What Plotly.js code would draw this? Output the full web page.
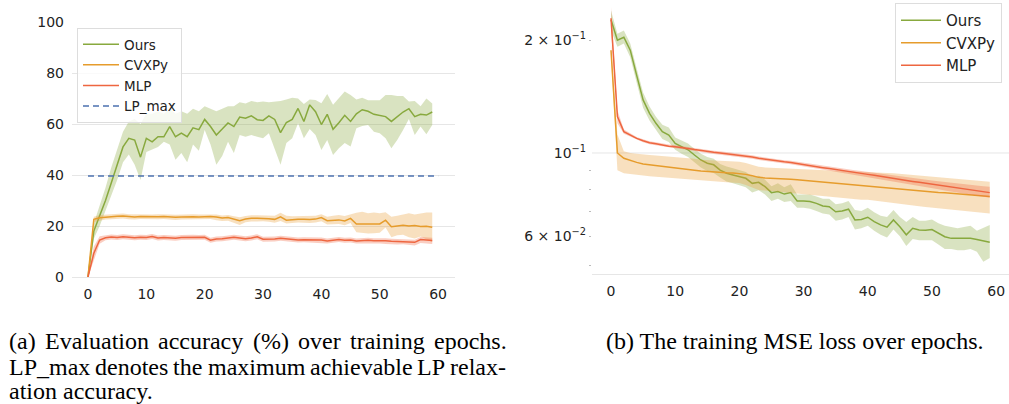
<!DOCTYPE html>
<html>
<head>
<meta charset="utf-8">
<script src="https://cdn.plot.ly/plotly-3.0.1.min.js"></script>
<style>
html,body{margin:0;padding:0;background:#fff;}
#chart{width:1009px;height:404px;}
</style>
</head>
<body>
<div id="chart"></div>
<script>
// ---------- data ----------
const epochs = Array.from({length: 60}, (_, i) => i);
const xTicks = [0, 10, 20, 30, 40, 50, 60];
const accTicks = [0, 20, 40, 60, 80, 100];
const lossTickVals = [0.06, 0.1, 0.2];
const lossTickText = ["6 × 10<sup>−2</sup>", "10<sup>−1</sup>", "2 × 10<sup>−1</sup>"];
const lossMinorVals = [0.05, 0.06, 0.07, 0.08, 0.09, 0.2];
const seriesNames = ["Ours", "CVXPy", "MLP", "LP_max"];
const lpMaxX = [0, 60];
const lpMaxY = [39.6, 39.6];

// (a) evaluation accuracy (%)
const accOurs = [0,18,24,30,37,44,51,54.4,53.7,47,54.4,53,55,55,59,55,56.4,55,58.5,57.8,61.8,59,55.7,58,60.4,59,62.7,62.3,63.2,61.7,61.4,63.2,61.8,56.6,60.6,61.8,66.1,61,67.5,64.8,59.8,63.8,57.9,60.5,63.4,61,64,65.6,65,63.8,63.4,62.9,61,62.9,64.7,66,62.9,63.8,63.5,64.7];
const accOursHi = [0.5,21,28,35,43,50,57,61,62,60,64,64,65,64,66,64,65,64,66,65,67,66,65,66,67,67,68.5,68,69,68.5,68.8,68.5,68.8,69,69.6,70.3,70,67.8,69.6,69.4,68.1,71.8,67.5,70,72.7,71.4,69.6,70.3,69.3,69.3,69.3,71.4,71.4,71,71,68.8,69,67,70,68];
const accOursLo = [0,15,20,26,32,38,45,48,44,38,49,50,51,53,52,46,48.6,45,52,49.5,57.6,52,44,47.5,53,48.6,55.7,55,55.7,55,54.4,56.4,50.5,44,52.5,54.4,60.3,54.4,58,55.7,49.8,53.7,47.8,50.5,52.5,51.2,58.3,59.2,59.6,57,56.4,54.4,50.5,53.7,57.6,62,55.7,59,56,59.6];
const accCvx = [0,22.6,23.2,23.5,23.6,23.8,23.9,23.6,23.5,23.7,23.6,23.5,23.6,23.7,23.5,23.4,23.5,23.6,23.6,23.5,23.6,23.7,23.5,23.1,23.3,22.6,22.1,22.7,23.0,23.0,23.0,22.8,22.6,23.6,22.3,22.5,22.6,22.6,22.5,22.7,23.3,22.1,22.3,22.4,22.0,23.0,20.8,20.8,20.8,20.8,20.8,22.3,19.7,20.0,20.3,20.0,20.2,19.8,19.9,19.5];
const accCvxHi = [0.5,23.6,24.3,24.5,24.6,24.8,24.9,24.6,24.5,24.7,24.6,24.5,24.6,24.7,24.5,24.4,24.5,24.6,24.6,24.5,24.6,24.7,24.5,24.1,24.3,23.8,23.4,23.9,24.2,24.2,24.1,23.9,24.0,25.2,24.0,23.8,23.8,23.9,23.8,24.0,24.6,23.6,24.0,24.3,23.9,24.6,25.2,25.6,25.0,25.3,25.0,25.4,23.6,24.0,24.6,25.0,24.5,25.0,25.3,25.3];
const accCvxLo = [0,21.6,22.1,22.5,22.6,22.8,22.9,22.6,22.5,22.7,22.6,22.5,22.6,22.7,22.5,22.4,22.5,22.6,22.6,22.5,22.6,22.7,22.3,22.0,22.1,21.3,20.4,21.5,21.8,21.8,21.9,21.7,21.3,22.0,21.0,21.2,21.4,21.3,21.2,21.4,21.9,20.6,20.7,20.8,20.3,21.2,17.5,17.2,17.1,17.2,17.4,19.4,15.6,16.4,16.6,15.6,15.1,15.9,14.8,13.6];
const accMlp = [0,9.3,14.5,15.4,15.7,15.5,15.8,15.6,15.4,15.6,15.5,15.9,15.3,15.5,15.4,15.2,15.5,15.6,15.6,15.5,15.6,14.4,14.9,15.0,15.4,15.6,15.3,15.0,15.3,15.8,14.8,14.8,14.9,15.2,14.9,14.7,14.5,14.6,14.5,14.6,14.5,14.1,14.4,14.7,14.4,14.5,14.1,14.3,14.4,14.2,14.3,14.2,14.0,13.9,14.0,13.9,13.6,14.7,14.5,14.3];
const accMlpHi = [0.5,12,16,16.4,16.7,16.5,16.8,16.6,16.4,16.6,16.5,16.9,16.3,16.5,16.4,16.2,16.5,16.6,16.6,16.5,16.6,15.4,15.9,16.0,16.4,16.6,16.3,16.0,16.3,16.8,15.8,15.8,15.9,16.2,15.9,15.7,15.5,15.6,15.5,15.6,15.5,15.1,15.4,15.7,15.4,15.5,15.1,15.3,15.4,15.2,15.3,15.2,15.0,14.9,15.0,14.9,14.6,15.7,15.5,15.4];
const accMlpLo = [0,6.5,13,14.4,14.7,14.5,14.8,14.6,14.4,14.6,14.5,14.9,14.3,14.5,14.4,14.2,14.5,14.6,14.6,14.5,14.6,13.4,13.9,14.0,14.4,14.6,14.3,14.0,14.3,14.8,13.8,13.8,13.9,14.2,13.9,13.7,13.5,13.6,13.5,13.6,13.5,13.1,13.4,13.7,13.4,13.5,13.1,13.1,13.2,13.0,13.1,12.9,12.7,12.7,12.8,12.7,12.4,13.3,13.2,12.9];

// (b) training MSE loss
const lossOurs = [0.2265,0.200,0.2036,0.188,0.161,0.1385,0.1276,0.120,0.114,0.1117,0.106,0.104,0.102,0.0988,0.0958,0.0939,0.093,0.090,0.0883,0.0874,0.0865,0.0856,0.083,0.0835,0.0813,0.0784,0.0789,0.0777,0.0784,0.0745,0.0745,0.0742,0.0734,0.0722,0.0719,0.0697,0.0700,0.0708,0.0663,0.0665,0.0674,0.0656,0.0643,0.0634,0.0663,0.0636,0.0605,0.063,0.0623,0.0622,0.0625,0.0611,0.0598,0.0592,0.0592,0.0592,0.0592,0.0588,0.0584,0.0578];
const lossOursHi = [0.240,0.208,0.212,0.196,0.168,0.145,0.133,0.125,0.119,0.117,0.110,0.108,0.106,0.1025,0.0995,0.0975,0.0965,0.0935,0.092,0.091,0.090,0.089,0.0865,0.087,0.0848,0.0815,0.083,0.081,0.0825,0.0775,0.0775,0.0775,0.0765,0.0755,0.0755,0.073,0.0735,0.0745,0.0705,0.070,0.0715,0.0695,0.068,0.0675,0.0705,0.0675,0.0655,0.0675,0.066,0.066,0.0665,0.065,0.064,0.0635,0.063,0.0635,0.064,0.062,0.063,0.0643];
const lossOursLo = [0.212,0.192,0.196,0.180,0.154,0.132,0.122,0.115,0.109,0.107,0.102,0.0995,0.0975,0.0945,0.0915,0.0895,0.0885,0.086,0.084,0.083,0.082,0.081,0.0785,0.0795,0.0775,0.0745,0.0755,0.074,0.0745,0.0715,0.0715,0.071,0.070,0.069,0.0685,0.066,0.0665,0.0675,0.0625,0.063,0.064,0.062,0.0605,0.0595,0.0625,0.060,0.0565,0.059,0.0585,0.0585,0.0585,0.057,0.0555,0.0555,0.055,0.055,0.0555,0.0545,0.0513,0.0525];
const lossCvx = [0.188,0.100,0.0968,0.0954,0.0944,0.0935,0.0930,0.0925,0.0920,0.0915,0.0910,0.0906,0.0902,0.0899,0.0895,0.0892,0.0890,0.0888,0.0886,0.0885,0.0883,0.0877,0.0870,0.0861,0.0858,0.0857,0.0855,0.0853,0.0851,0.0848,0.0845,0.0842,0.0839,0.0835,0.0833,0.0830,0.0826,0.0823,0.0819,0.0817,0.0815,0.0812,0.0810,0.0807,0.0805,0.0802,0.0799,0.0796,0.0793,0.0789,0.0787,0.0785,0.0783,0.0780,0.0777,0.0775,0.0772,0.0770,0.0767,0.0765];
const lossCvxHi = [0.195,0.112,0.101,0.1,0.0995,0.099,0.0988,0.0985,0.0982,0.098,0.0978,0.0975,0.097,0.0965,0.096,0.0958,0.0955,0.0952,0.095,0.0948,0.0947,0.094,0.093,0.0919,0.0915,0.0913,0.0912,0.091,0.0908,0.0906,0.0905,0.0903,0.0901,0.0899,0.0898,0.0896,0.0895,0.0894,0.0893,0.0892,0.0892,0.089,0.0888,0.0885,0.0883,0.088,0.0877,0.0874,0.087,0.0867,0.0864,0.0861,0.0858,0.0855,0.0852,0.0849,0.0846,0.0843,0.084,0.0838];
const lossCvxLo = [0.18,0.09,0.0883,0.0878,0.0874,0.087,0.0867,0.0864,0.0861,0.0858,0.0856,0.0853,0.085,0.0847,0.0845,0.0843,0.0841,0.0838,0.0836,0.0834,0.0832,0.0822,0.081,0.0797,0.0794,0.0791,0.0788,0.0785,0.0782,0.0779,0.0776,0.0773,0.077,0.0767,0.0764,0.0761,0.0758,0.0755,0.0753,0.0751,0.075,0.0746,0.0742,0.0738,0.0734,0.073,0.0727,0.0724,0.0721,0.0718,0.0715,0.0712,0.0709,0.0706,0.0703,0.07,0.0698,0.0695,0.0692,0.069];
const lossMlp = [0.2287,0.125,0.114,0.1117,0.1094,0.1078,0.1065,0.1058,0.1048,0.1043,0.1039,0.1035,0.1028,0.1021,0.1014,0.1008,0.1004,0.1000,0.0996,0.0992,0.0988,0.0982,0.0976,0.0968,0.0962,0.0957,0.0952,0.0947,0.0943,0.0938,0.0932,0.0926,0.0920,0.0914,0.0909,0.0903,0.0898,0.0893,0.0887,0.0882,0.0877,0.0872,0.0866,0.0861,0.0856,0.0851,0.0846,0.0840,0.0835,0.0830,0.0825,0.0820,0.0815,0.0810,0.0805,0.0801,0.0797,0.0793,0.0788,0.0784];
const lossMlpHi = [0.245,0.13,0.1155,0.1128,0.1104,0.1088,0.1075,0.1068,0.1058,0.1053,0.1049,0.1045,0.1038,0.1031,0.1024,0.1018,0.1014,0.101,0.1006,0.1002,0.0998,0.0992,0.0986,0.0978,0.0972,0.0967,0.0962,0.0957,0.0953,0.0948,0.0942,0.0937,0.0931,0.0925,0.092,0.0915,0.091,0.0905,0.09,0.0895,0.089,0.0886,0.0881,0.0876,0.0872,0.0867,0.0863,0.0858,0.0854,0.0849,0.0845,0.0841,0.0837,0.0832,0.0828,0.0824,0.082,0.0817,0.0815,0.0813];
const lossMlpLo = [0.215,0.12,0.1125,0.1106,0.1084,0.1068,0.1055,0.1048,0.1038,0.1033,0.1029,0.1025,0.1018,0.1011,0.1004,0.0998,0.0994,0.099,0.0986,0.0982,0.0978,0.0972,0.0966,0.0958,0.0952,0.0947,0.0942,0.0937,0.0933,0.0928,0.0922,0.0915,0.0909,0.0903,0.0898,0.0891,0.0886,0.0881,0.0874,0.0869,0.0864,0.0858,0.0851,0.0846,0.084,0.0835,0.0829,0.0822,0.0816,0.0811,0.0805,0.08,0.0794,0.0789,0.0783,0.0779,0.0775,0.077,0.0765,0.076];

// captions
const captionAWords1 = ["(a)", "Evaluation", "accuracy", "(%)", "over", "training", "epochs."];
const captionAWords2 = ["LP_max", "denotes", "the", "maximum", "achievable", "LP", "relax-"];
const captionALine3 = "ation accuracy.";
const captionB = "(b) The training MSE loss over epochs.";

// ---------- styling ----------
const W = 1009, H = 404;
const colors = {
  Ours: "#88a93e", OursBand: "rgba(136,169,62,0.32)",
  CVXPy: "#e69c2c", CVXPyBand: "rgba(232,160,55,0.32)",
  MLP: "#ee6640", MLPBand: "rgba(238,102,64,0.32)",
  LP: "#4c72b0"
};
const px = v => v / W;
const py = v => 1 - v / H;

function band(x, lo, hi, fill, xa, ya) {
  return [
    {x: x, y: lo, xaxis: xa, yaxis: ya, mode: "lines", line: {width: 0, color: fill}, showlegend: false, hoverinfo: "skip"},
    {x: x, y: hi, xaxis: xa, yaxis: ya, mode: "lines", line: {width: 0, color: fill}, fill: "tonexty", fillcolor: fill, showlegend: false, hoverinfo: "skip"}
  ];
}
function line(x, y, name, color, xa, ya, legend) {
  return {x: x, y: y, xaxis: xa, yaxis: ya, mode: "lines", name: name, line: {color: color, width: 1.5}, legend: legend};
}

const traces = [
  ...band(epochs, accOursLo, accOursHi, colors.OursBand, "x", "y"),
  line(epochs, accOurs, seriesNames[0], colors.Ours, "x", "y", "legend"),
  ...band(epochs, accCvxLo, accCvxHi, colors.CVXPyBand, "x", "y"),
  line(epochs, accCvx, seriesNames[1], colors.CVXPy, "x", "y", "legend"),
  ...band(epochs, accMlpLo, accMlpHi, colors.MLPBand, "x", "y"),
  line(epochs, accMlp, seriesNames[2], colors.MLP, "x", "y", "legend"),
  {x: lpMaxX, y: lpMaxY, xaxis: "x", yaxis: "y", mode: "lines", name: seriesNames[3], line: {color: colors.LP, width: 1.5, dash: "6px,4px"}, legend: "legend"},

  ...band(epochs, lossOursLo, lossOursHi, colors.OursBand, "x2", "y2"),
  line(epochs, lossOurs, seriesNames[0], colors.Ours, "x2", "y2", "legend2"),
  ...band(epochs, lossCvxLo, lossCvxHi, colors.CVXPyBand, "x2", "y2"),
  line(epochs, lossCvx, seriesNames[1], colors.CVXPy, "x2", "y2", "legend2"),
  ...band(epochs, lossMlpLo, lossMlpHi, colors.MLPBand, "x2", "y2"),
  line(epochs, lossMlp, seriesNames[2], colors.MLP, "x2", "y2", "legend2")
];

const tickFont = {family: "DejaVu Sans", size: 14, color: "#222"};
const gridColor = "#e6e6e6";

// caption layout: justified word placement measured with the real font
const capSize = 24;
const capFamily = "Liberation Serif";
const capFont = {family: capFamily, size: capSize, color: "#000"};
const ctx = document.createElement("canvas").getContext("2d");
ctx.font = capSize + "px '" + capFamily + "'";
function justify(words, x0, x1) {
  const widths = words.map(w => ctx.measureText(w).width);
  const total = widths.reduce((a, b) => a + b, 0);
  const gap = (x1 - x0 - total) / (words.length - 1);
  const pos = [];
  let x = x0;
  widths.forEach(w => { pos.push(x); x += w + gap; });
  return pos;
}
const line1X = justify(captionAWords1, 8, 506);
const line2X = justify(captionAWords2, 8, 505);
const annotations = [];
captionAWords1.forEach((w, i) => annotations.push({text: w, x: px(line1X[i]), y: py(340.5), xref: "paper", yref: "paper", xanchor: "left", yanchor: "middle", showarrow: false, font: capFont, borderpad: 0}));
captionAWords2.forEach((w, i) => annotations.push({text: w, x: px(line2X[i]), y: py(366.5), xref: "paper", yref: "paper", xanchor: "left", yanchor: "middle", showarrow: false, font: capFont, borderpad: 0}));
annotations.push({text: captionALine3, x: px(8), y: py(390.5), xref: "paper", yref: "paper", xanchor: "left", yanchor: "middle", showarrow: false, font: capFont, borderpad: 0, height: 26});
annotations.push({text: captionB, x: px(794.5), y: py(340.5), xref: "paper", yref: "paper", xanchor: "center", yanchor: "middle", showarrow: false, font: capFont, borderpad: 0});

const layout = {
  width: W, height: H,
  margin: {l: 0, r: 0, t: 0, b: 0},
  paper_bgcolor: "#fff", plot_bgcolor: "#fff",
  font: {family: "DejaVu Sans", color: "#222"},
  showlegend: true,
  xaxis: {
    domain: [px(72), px(455)], anchor: "y",
    range: [-2.74, 62.9], tickvals: xTicks, ticks: "", ticklabelstandoff: 4,
    showgrid: false, zeroline: false, showline: true, linecolor: gridColor, linewidth: 1,
    tickfont: tickFont
  },
  yaxis: {
    domain: [py(277), py(22)], anchor: "x",
    range: [0, 100], tickvals: accTicks, ticks: "", ticklabelstandoff: 7,
    showgrid: true, gridcolor: gridColor, gridwidth: 1, zeroline: false, showline: false,
    tickfont: tickFont
  },
  xaxis2: {
    domain: [px(592), 1], anchor: "y2",
    range: [-2.96, 62], tickvals: xTicks, ticks: "", ticklabelstandoff: 4,
    showgrid: false, zeroline: false, showline: true, linecolor: gridColor, linewidth: 1,
    tickfont: tickFont
  },
  yaxis2: {
    domain: [py(274), 1], anchor: "x2",
    type: "log", range: [-1.3227, -0.592],
    tickvals: lossTickVals, ticktext: lossTickText, ticks: "", ticklabelstandoff: 5,
    showgrid: false, zeroline: false, showline: false,
    minor: {tickvals: lossMinorVals, ticks: "outside", ticklen: 2, tickcolor: "#bbb", tickwidth: 1, showgrid: false},
    tickfont: tickFont
  },
  shapes: [
    {type: "line", xref: "x2 domain", yref: "y2", x0: 0, x1: 1, y0: 0.1, y1: 0.1, line: {color: gridColor, width: 1}, layer: "below"}
  ],
  legend: {
    x: px(77), y: py(28), xanchor: "left", yanchor: "top", traceorder: "normal",
    bgcolor: "rgba(255,255,255,0.8)", bordercolor: "#dddddd", borderwidth: 1,
    font: {family: "DejaVu Sans", size: 13.5, color: "#222"}, itemwidth: 36, tracegroupgap: 0
  },
  legend2: {
    x: px(1002), y: py(3), xanchor: "right", yanchor: "top", traceorder: "normal",
    bgcolor: "rgba(255,255,255,0.8)", bordercolor: "#dddddd", borderwidth: 1,
    font: {family: "DejaVu Sans", size: 15, color: "#222"}, itemwidth: 40, tracegroupgap: 0
  },
  annotations: annotations
};

Plotly.newPlot("chart", traces, layout, {staticPlot: true, displayModeBar: false});
</script>
</body>
</html>
